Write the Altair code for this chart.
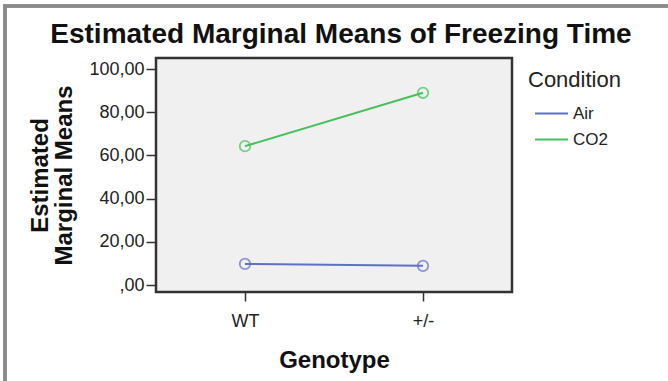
import altair as alt
import pandas as pd

genotypes = ["WT", "+/-"]
conditions = ["Air", "CO2"]
air_means = [9.8, 8.9]
co2_means = [64.3, 89.0]

rows = []
for g, a, c in zip(genotypes, air_means, co2_means):
    rows.append({"Genotype": g, "Condition": "Air", "Mean": a})
    rows.append({"Genotype": g, "Condition": "CO2", "Mean": c})
df = pd.DataFrame(rows)

FONT = "Liberation Sans"
color_scale = alt.Scale(domain=conditions, range=["#5f6fc6", "#44c15a"])

x_enc = alt.X("Genotype:N", sort=genotypes, scale=alt.Scale(paddingOuter=0.61),
              axis=alt.Axis(title="Genotype", labelAngle=0, labelFontSize=18, labelColor="#222",
                            titleFontSize=24, titleFontWeight="bold", titleColor="#111",
                            titlePadding=18, tickSize=9, tickColor="#333", tickWidth=1.5,
                            labelPadding=11, domain=False, grid=False))
y_enc = alt.Y("Mean:Q", scale=alt.Scale(domain=[-3.2, 105.1], nice=False, zero=False),
              axis=alt.Axis(title=["Estimated", "Marginal Means"], values=[0, 20, 40, 60, 80, 100],
                            labelExpr="datum.value == 0 ? ',00' : replace(format(datum.value, '.2f'), '.', ',')",
                            labelFontSize=18, labelColor="#222", titleFontSize=24,
                            titleFontWeight="bold", titleColor="#111", titlePadding=12,
                            titleLineHeight=24,
                            tickSize=10, tickColor="#333", tickWidth=1.5, labelPadding=2,
                            domain=False, grid=False))
c_enc = alt.Color("Condition:N", scale=color_scale,
                  legend=alt.Legend(title="Condition", orient="none", legendX=372, legendY=12,
                                    titleFontSize=22, titleFontWeight="normal", titleColor="#222",
                                    labelFontSize=17, labelColor="#222", symbolType="stroke",
                                    symbolStrokeWidth=2, symbolSize=1089, rowPadding=-10,
                                    symbolOffset=6, labelOffset=4, titlePadding=4))

lines = alt.Chart(df).mark_line(strokeWidth=2).encode(x=x_enc, y=y_enc, color=c_enc)
points = alt.Chart(df).mark_point(shape="circle", filled=False, size=110, strokeWidth=1.8).encode(
    x=alt.X("Genotype:N", sort=genotypes), y="Mean:Q",
    color=alt.Color("Condition:N", scale=color_scale, legend=None))

border_top = alt.Chart(df).mark_rule(color="#8a8a8a", strokeWidth=3).encode(
    x=alt.value(-153), x2=alt.value(520), y=alt.value(-52))
border_left = alt.Chart(df).mark_rule(color="#8a8a8a", strokeWidth=3).encode(
    x=alt.value(-151), y=alt.value(-53), y2=alt.value(330))

chart = alt.layer(border_top, border_left, lines, points).properties(
    width=356, height=234,
    title=alt.TitleParams("Estimated Marginal Means of Freezing Time", fontSize=28,
                          fontWeight="bold", color="#111", font=FONT, anchor="middle",
                          frame="group", baseline="alphabetic", dx=7, dy=67, offset=0),
    padding={"left": 156, "top": 58, "right": 156, "bottom": 89},
    autosize=alt.AutoSizeParams(type="none"),
    background="white",
).configure(
    font=FONT,
    view=alt.ViewConfig(fill="#f0f0f0", stroke="#333333", strokeWidth=2.5),
)

chart.save("out.html", embed_options={"renderer": "svg", "actions": False})
